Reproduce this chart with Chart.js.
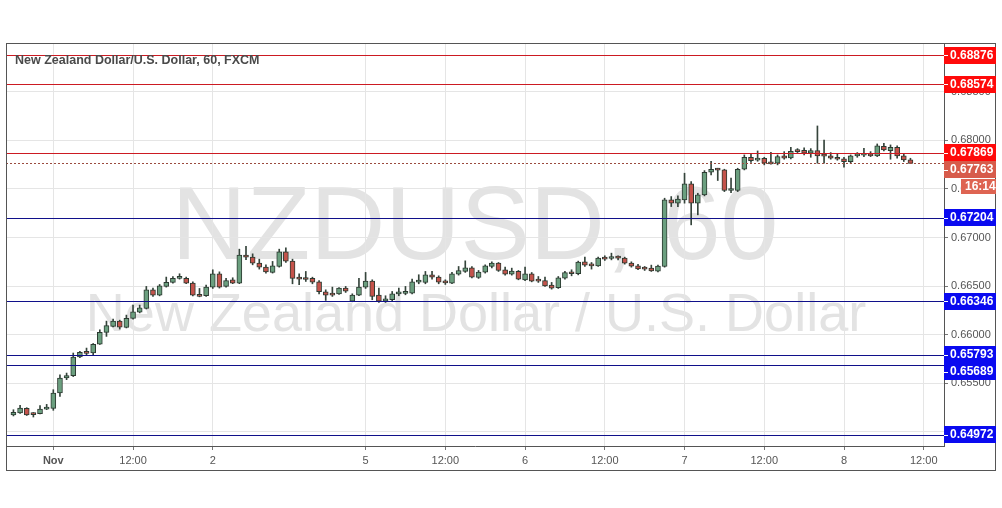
<!DOCTYPE html>
<html><head><meta charset="utf-8">
<script src="https://cdn.jsdelivr.net/npm/chart.js@4.4.1/dist/chart.umd.min.js"></script>
<style>html,body{margin:0;padding:0;background:#fff;overflow:hidden}</style>
</head><body>
<canvas id="c" width="1002" height="508" style="display:block;width:1002px;height:508px"></canvas>
<script>
// ---- data (hourly candles, slot index 0 = 1 Nov 00:00, weekend removed) ----
const firstSlot = -6;
const openP = [0.65175,0.65195,0.65243,0.65192,0.65188,0.65236,0.65243,0.65401,0.65555,0.65579,0.65771,0.65822,0.65812,0.65904,0.66025,0.66086,0.66140,0.66075,0.66168,0.66233,0.66271,0.66462,0.66408,0.66497,0.66538,0.66579,0.66579,0.66531,0.66408,0.66401,0.66490,0.66627,0.66497,0.66565,0.66531,0.66820,0.66798,0.66736,0.66695,0.66641,0.66702,0.66853,0.66757,0.66582,0.66579,0.66579,0.66545,0.66442,0.66421,0.66421,0.66480,0.66346,0.66408,0.66490,0.66551,0.66408,0.66346,0.66360,0.66421,0.66425,0.66428,0.66541,0.66538,0.66617,0.66592,0.66548,0.66531,0.66623,0.66651,0.66688,0.66589,0.66644,0.66702,0.66736,0.66668,0.66623,0.66651,0.66565,0.66627,0.66565,0.66558,0.66510,0.66483,0.66582,0.66640,0.66627,0.66750,0.66716,0.66709,0.66794,0.66784,0.66791,0.66788,0.66736,0.66709,0.66685,0.66685,0.66654,0.66702,0.67387,0.67353,0.67387,0.67551,0.67353,0.67438,0.67671,0.67705,0.67695,0.67483,0.67483,0.67702,0.67825,0.67795,0.67815,0.67764,0.67764,0.67839,0.67818,0.67897,0.67897,0.67866,0.67894,0.67842,0.67839,0.67815,0.67808,0.67781,0.67839,0.67846,0.67853,0.67839,0.67938,0.67894,0.67928,0.67839,0.67798];
const highP = [0.65229,0.65274,0.65250,0.65200,0.65271,0.65284,0.65435,0.65589,0.65606,0.65812,0.65830,0.65863,0.65910,0.66051,0.66140,0.66161,0.66150,0.66202,0.66305,0.66305,0.66497,0.66480,0.66517,0.66593,0.66599,0.66627,0.66593,0.66545,0.66476,0.66510,0.66668,0.66647,0.66579,0.66586,0.66880,0.66908,0.66832,0.66777,0.66719,0.66754,0.66880,0.66894,0.66777,0.66627,0.66651,0.66592,0.66558,0.66462,0.66490,0.66486,0.66497,0.66421,0.66579,0.66641,0.66565,0.66480,0.66401,0.66445,0.66480,0.66497,0.66572,0.66617,0.66651,0.66651,0.66606,0.66565,0.66641,0.66702,0.66760,0.66702,0.66661,0.66719,0.66750,0.66743,0.66695,0.66685,0.66661,0.66695,0.66640,0.66599,0.66592,0.66538,0.66599,0.66651,0.66668,0.66757,0.66798,0.66743,0.66798,0.66812,0.66839,0.66812,0.66798,0.66750,0.66723,0.66702,0.66716,0.66716,0.67404,0.67421,0.67428,0.67661,0.67575,0.67455,0.67688,0.67784,0.67712,0.67702,0.67610,0.67712,0.67849,0.67866,0.67890,0.67825,0.67877,0.67849,0.67883,0.67928,0.67914,0.67921,0.67914,0.68147,0.68003,0.67873,0.67859,0.67825,0.67849,0.67873,0.67918,0.67883,0.67962,0.67969,0.67952,0.67942,0.67859,0.67815];
const lowP = [0.65165,0.65190,0.65170,0.65154,0.65185,0.65230,0.65223,0.65366,0.65538,0.65570,0.65765,0.65795,0.65795,0.65900,0.65983,0.66080,0.66058,0.66070,0.66160,0.66225,0.66265,0.66394,0.66400,0.66490,0.66530,0.66572,0.66525,0.66400,0.66390,0.66395,0.66476,0.66480,0.66490,0.66525,0.66525,0.66771,0.66719,0.66675,0.66634,0.66634,0.66695,0.66743,0.66524,0.66514,0.66548,0.66524,0.66421,0.66353,0.66394,0.66414,0.66435,0.66339,0.66401,0.66476,0.66360,0.66332,0.66332,0.66346,0.66401,0.66411,0.66421,0.66524,0.66524,0.66572,0.66524,0.66517,0.66524,0.66613,0.66641,0.66585,0.66579,0.66634,0.66688,0.66651,0.66613,0.66613,0.66565,0.66555,0.66544,0.66538,0.66496,0.66469,0.66476,0.66572,0.66606,0.66616,0.66702,0.66675,0.66702,0.66764,0.66770,0.66770,0.66726,0.66695,0.66668,0.66661,0.66651,0.66647,0.66695,0.67318,0.67318,0.67353,0.67130,0.67233,0.67428,0.67644,0.67586,0.67472,0.67462,0.67472,0.67695,0.67771,0.67784,0.67747,0.67754,0.67747,0.67805,0.67808,0.67873,0.67849,0.67825,0.67764,0.67764,0.67805,0.67795,0.67723,0.67764,0.67825,0.67832,0.67832,0.67832,0.67890,0.67805,0.67815,0.67781,0.67763];
const closeP = [0.65202,0.65247,0.65175,0.65178,0.65236,0.65247,0.65401,0.65555,0.65579,0.65771,0.65819,0.65808,0.65901,0.66025,0.66093,0.66140,0.66079,0.66168,0.66236,0.66277,0.66462,0.66408,0.66504,0.66538,0.66579,0.66586,0.66531,0.66408,0.66394,0.66490,0.66627,0.66490,0.66558,0.66531,0.66820,0.66798,0.66736,0.66695,0.66647,0.66709,0.66853,0.66757,0.66579,0.66572,0.66568,0.66541,0.66442,0.66408,0.66408,0.66480,0.66449,0.66408,0.66490,0.66551,0.66394,0.66346,0.66370,0.66421,0.66432,0.66442,0.66545,0.66551,0.66617,0.66592,0.66541,0.66534,0.66627,0.66661,0.66688,0.66592,0.66644,0.66709,0.66736,0.66661,0.66623,0.66654,0.66572,0.66627,0.66551,0.66551,0.66503,0.66479,0.66585,0.66640,0.66627,0.66747,0.66716,0.66709,0.66788,0.66777,0.66791,0.66788,0.66736,0.66706,0.66678,0.66675,0.66657,0.66706,0.67387,0.67353,0.67394,0.67551,0.67353,0.67438,0.67671,0.67702,0.67692,0.67483,0.67490,0.67702,0.67825,0.67791,0.67815,0.67764,0.67757,0.67832,0.67815,0.67887,0.67883,0.67866,0.67894,0.67839,0.67836,0.67815,0.67805,0.67781,0.67839,0.67849,0.67853,0.67839,0.67942,0.67901,0.67928,0.67839,0.67798,0.67763];

const xTickSlots  = [0, 12, 24, 47, 59, 71, 83, 95, 107, 119, 131];
const xTickLabels = ['Nov', '12:00', '2', '5', '12:00', '6', '12:00', '7', '12:00', '8', '12:00'];
const yTickValues = [0.650, 0.655, 0.660, 0.665, 0.670, 0.675, 0.680, 0.685];
const resistanceLevels = [0.68876, 0.68574, 0.67869];
const supportLevels = [0.67204, 0.66346, 0.65793, 0.65689, 0.64972];
const lastPrice = 0.67763;
const countdownText = '16:14';
const titleText = 'New Zealand Dollar/U.S. Dollar, 60, FXCM';
const watermarkBig = 'NZDUSD, 60';
const watermarkSmall = 'New Zealand Dollar / U.S. Dollar';

const GREEN = '#6b9f7f', RED = '#c4534b', OUTLINE = '#2c3a31', WICK = '#35443b';
const FONT = "'Liberation Sans', Arial, sans-serif";

const slots = openP.map((_, i) => firstSlot + i);
const bodyData = slots.map((s, i) => ({x: s, y: [openP[i], closeP[i]]}));
const wickData = slots.map((s, i) => ({x: s, y: [lowP[i], highP[i]]}));

const decor = {
  id: 'decor',
  beforeDraw(chart) {
    const {ctx, chartArea: a} = chart;
    ctx.save();
    ctx.fillStyle = '#fff';
    ctx.fillRect(0, 0, chart.width, chart.height);
    ctx.fillStyle = '#e3e3e3';
    ctx.textAlign = 'center';
    ctx.textBaseline = 'alphabetic';
    const cx = (a.left + a.right) / 2;
    ctx.font = '104px ' + FONT;
    ctx.fillText(watermarkBig, cx, 259);
    ctx.font = '54px ' + FONT;
    ctx.fillText(watermarkSmall, cx + 1, 331);
    ctx.restore();
  },
  afterDatasetsDraw(chart) {
    const {ctx, chartArea: a, scales: {y}} = chart;
    ctx.save();
    const hl = (v, col) => {
      const py = Math.round(y.getPixelForValue(v));
      ctx.fillStyle = col;
      ctx.fillRect(a.left, py, a.right - a.left, 1);
    };
    resistanceLevels.forEach(v => hl(v, '#cc1a22'));
    supportLevels.forEach(v => hl(v, '#10108a'));
    const py = Math.round(y.getPixelForValue(lastPrice));
    ctx.fillStyle = '#9a4a3e';
    for (let x = a.left; x < a.right; x += 4) ctx.fillRect(x, py, 2, 1);
    ctx.restore();
  },
  afterDraw(chart) {
    const {ctx, chartArea: a, scales: {y}} = chart;
    ctx.save();
    // frame
    ctx.strokeStyle = '#555';
    ctx.lineWidth = 1;
    ctx.strokeRect(6.5, 43.5, 989, 427);
    // title
    ctx.fillStyle = '#4a4a4a';
    ctx.font = 'bold 12.5px ' + FONT;
    ctx.textAlign = 'left';
    ctx.textBaseline = 'middle';
    ctx.fillText(titleText, 15, 61);
    // price labels
    const labels = [];
    resistanceLevels.forEach(v => labels.push({v, bg: '#ff0a0a'}));
    supportLevels.forEach(v => labels.push({v, bg: '#0a0af0'}));
    labels.push({v: lastPrice, bg: '#d75b4b', last: true});
    labels.forEach(l => l.py = y.getPixelForValue(l.v));
    labels.sort((p, q) => p.py - q.py);
    const H = 17;
    let prev = -1e9;
    labels.forEach(l => {
      l.cy = Math.max(l.py, prev + H);
      prev = l.cy;
    });
    ctx.font = 'bold 12px ' + FONT;
    labels.forEach(l => {
      const top = Math.round(l.cy - H / 2);
      ctx.fillStyle = l.bg;
      ctx.fillRect(a.right, top, 52, H);
      ctx.fillStyle = '#fff';
      ctx.fillRect(a.right, Math.round(l.cy), 4, 1);
      ctx.fillText(l.v.toFixed(5), a.right + 6, top + H / 2 + 0.5);
      if (l.last) {
        const t2 = top + H + 1;
        ctx.fillStyle = '#de6452';
        ctx.fillRect(a.right + 17, t2, 35, 15);
        ctx.fillStyle = '#fff';
        ctx.fillText(countdownText, a.right + 21, t2 + 8);
      }
    });
    ctx.restore();
  }
};

new Chart(document.getElementById('c'), {
  type: 'bar',
  data: {
    datasets: [
      {label: 'body', data: bodyData, order: 0, grouped: false, barThickness: 5, minBarLength: 2,
       borderWidth: 1, borderSkipped: false, borderColor: OUTLINE,
       backgroundColor: c => (closeP[c.dataIndex] >= openP[c.dataIndex] ? GREEN : RED)},
      {label: 'wick', data: wickData, order: 1, grouped: false, barThickness: 1,
       backgroundColor: WICK, borderWidth: 0}
    ]
  },
  plugins: [decor],
  options: {
    responsive: false, animation: false, devicePixelRatio: 1,
    layout: {padding: {left: 6, top: 43, right: 6, bottom: 37}},
    plugins: {legend: {display: false}, tooltip: {enabled: false}},
    scales: {
      x: {
        type: 'linear', min: -7.12, max: 134.05, offset: false,
        afterFit: s => { s.height = 25; },
        afterBuildTicks: s => { s.ticks = xTickSlots.map(v => ({value: v})); },
        grid: {offset: false, color: '#e5e5e5', tickLength: 4, tickColor: '#777'},
        border: {display: true, color: '#555'},
        ticks: {
          autoSkip: false, maxRotation: 0, padding: 4, color: '#555',
          font: c => ({family: FONT, size: 11, weight: c.index === 0 ? 'bold' : 'normal'}),
          callback: (v) => xTickLabels[xTickSlots.indexOf(v)]
        }
      },
      y: {
        type: 'linear', position: 'right', min: 0.64856, max: 0.69,
        afterFit: s => { s.width = 52; },
        afterBuildTicks: s => { s.ticks = yTickValues.map(v => ({value: v})); },
        grid: {color: '#e5e5e5', tickLength: 4, tickColor: '#777'},
        border: {display: true, color: '#555'},
        ticks: {padding: 3, color: '#555', font: {family: FONT, size: 11},
                callback: v => Number(v).toFixed(5)}
      }
    }
  }
});
</script>
</body></html>
